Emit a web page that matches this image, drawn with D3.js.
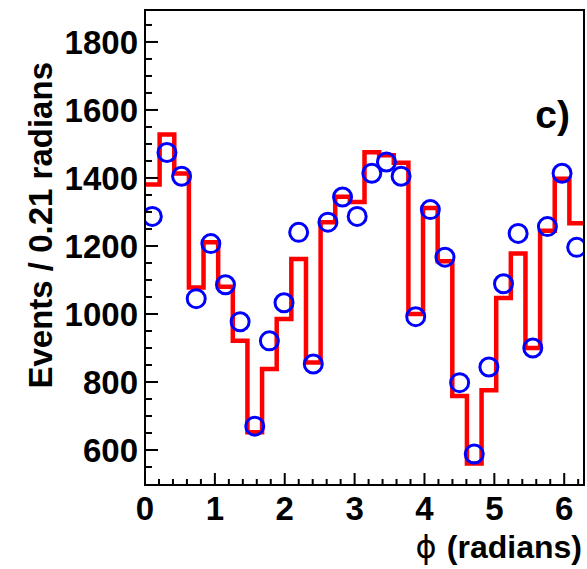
<!DOCTYPE html>
<html><head><meta charset="utf-8">
<script src="https://cdn.jsdelivr.net/npm/d3@7"></script>
<style>body{margin:0;background:#fff}svg{display:block}</style>
</head><body>
<script>
const nBins = 30;
const histValues = [1381,1528,1413,1078,1211,1080,921,652,838,985,1162,857,1270,1345,1329,1476,1467,1445,1000,1312,1155,759,560,776,1047,1178,900,1245,1398,1267];
const pointValues = [1287,1475,1405,1045,1207,1086,977,670,921,1033,1240,853,1270,1344,1287,1414,1447,1405,992,1307,1167,798,588,844,1089,1237,900,1257,1414,1196];
const xTicks = [0,1,2,3,4,5,6];
const yTicks = [600,800,1000,1200,1400,1600,1800];
const xTitle = "(radians)";
const yTitle = "Events / 0.21 radians";
const panelLabel = "c)";

const W = 587, H = 569;
const L = 145, R = 584, T = 10, B = 485;
const xMax = 2*Math.PI;
const binW = xMax / nBins;
const font = "'Liberation Sans', Arial, Helvetica, sans-serif";

const svg = d3.select("body").append("svg").attr("width", W).attr("height", H);
const x = d3.scaleLinear().domain([0, xMax]).range([L, R]);
const y = d3.scaleLinear().domain([497, 1894]).range([B, T]);

svg.append("clipPath").attr("id","clip").append("rect")
  .attr("x", L).attr("y", T).attr("width", R-L).attr("height", B-T);

// histogram step line
const edges = histValues.map((v,i)=>[i*binW, v]);
edges.push([xMax, histValues[histValues.length-1]]);
svg.append("path")
  .attr("clip-path","url(#clip)")
  .attr("d", d3.line().x(d=>x(d[0])).y(d=>y(d[1])).curve(d3.curveStepAfter)(edges))
  .attr("fill","none").attr("stroke","#ff0000").attr("stroke-width",4.5);

// points
svg.append("g").attr("clip-path","url(#clip)").selectAll("circle").data(pointValues).enter()
  .append("circle")
  .attr("cx",(d,i)=>x((i+0.5)*binW)).attr("cy",d=>y(d)).attr("r",9)
  .attr("fill","none").attr("stroke","#0000ff").attr("stroke-width",3);

// frame
svg.append("rect").attr("x",L).attr("y",T).attr("width",R-L).attr("height",B-T)
  .attr("fill","none").attr("stroke","#000").attr("stroke-width",2);

// y ticks
const yMinor = d3.range(550, 1851, 50);
svg.append("g").selectAll("line").data(yMinor).enter().append("line")
  .attr("x1",L).attr("x2",d=> d%200===0 ? L+13 : L+7)
  .attr("y1",d=>y(d)).attr("y2",d=>y(d))
  .attr("stroke","#000").attr("stroke-width",2);
svg.append("g").selectAll("text").data(yTicks).enter().append("text")
  .attr("x",L-7).attr("y",d=>y(d)).attr("dy","0.36em")
  .attr("text-anchor","end").attr("font-family",font).attr("font-weight","bold")
  .attr("font-size",33).text(d=>d);

// x ticks
const xMinor = d3.range(0, 6.21, 0.2);
svg.append("g").selectAll("line").data(xMinor).enter().append("line")
  .attr("x1",d=>x(d)).attr("x2",d=>x(d))
  .attr("y1",B).attr("y2",d=> Math.abs(d-Math.round(d))<1e-6 ? B-12 : B-6)
  .attr("stroke","#000").attr("stroke-width",2);
svg.append("g").selectAll("text").data(xTicks).enter().append("text")
  .attr("x",d=>x(d)).attr("y",520)
  .attr("text-anchor","middle").attr("font-family",font).attr("font-weight","bold")
  .attr("font-size",33).text(d=>d);

// axis titles
const xt = svg.append("text").attr("x",582).attr("y",558).attr("text-anchor","end")
  .attr("font-family",font).attr("font-weight","bold").attr("font-size",32);
xt.append("tspan").attr("font-family","'DejaVu Sans', sans-serif").attr("font-weight","normal").text("ϕ ");
xt.append("tspan").text(xTitle);

svg.append("text").attr("transform","translate(52,62) rotate(-90)")
  .attr("text-anchor","end").attr("font-family",font).attr("font-weight","bold")
  .attr("font-size",33).text(yTitle);

svg.append("text").attr("x",570).attr("y",128).attr("text-anchor","end")
  .attr("font-family",font).attr("font-weight","bold").attr("font-size",39).text(panelLabel);
</script>
</body></html>
